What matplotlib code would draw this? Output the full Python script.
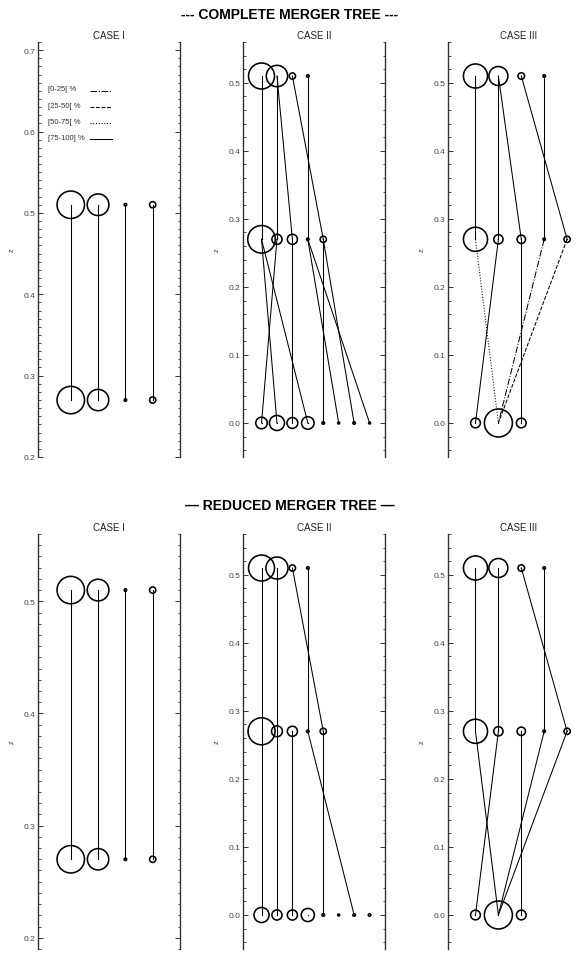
import matplotlib

matplotlib.use("Agg")

import numpy as np
import matplotlib.pyplot as plt
from matplotlib.ticker import MultipleLocator, FormatStrFormatter

plt.rcParams["font.family"] = ["Liberation Sans", "DejaVu Sans"]

# redshift of each tree level (top -> bottom)
Z_LEVELS = [0.51, 0.27, 0.0]

# mass-fraction classes used for the branch line styles
CLASS_LABELS = ["[0-25[ %", "[25-50[ %", "[50-75[ %", "[75-100] %"]
CLASS_STYLES = ["-.", "--", ":", "-"]
CASE_NAMES = ["CASE I", "CASE II", "CASE III"]

# relative halo masses per level (largest halo = 1)
CASE1_MASS = [[0.96, 0.60, 0.008, 0.05],
              [0.96, 0.58, 0.008, 0.05]]
CASE2_MASS = [[0.86, 0.58, 0.05, 0.008],
              [0.97, 0.13, 0.13, 0.008, 0.05],
              [0.17, 0.29, 0.15, 0.20, 0.008, 0.005, 0.008, 0.005]]
CASE2_RED_MASS = [[0.86, 0.62, 0.05, 0.008],
                  [0.93, 0.15, 0.13, 0.008, 0.05],
                  [0.29, 0.13, 0.13, 0.22, 0.008, 0.005, 0.008, 0.008]]
CASE3_MASS = [[0.74, 0.46, 0.055, 0.008],
              [0.74, 0.11, 0.09, 0.008, 0.05],
              [0.12, 1.00, 0.12]]

# links: (parent level, parent index, child index, mass-fraction class)
CASE1_LINKS = [(0, 0, 0, 3), (0, 1, 1, 3), (0, 2, 2, 3), (0, 3, 3, 3)]
CASE2_LINKS = [(0, 0, 0, 3), (0, 1, 1, 3), (0, 1, 2, 3), (0, 2, 4, 3), (0, 3, 3, 3),
               (1, 0, 1, 3), (1, 0, 3, 3), (1, 1, 0, 3), (1, 2, 2, 3),
               (1, 3, 5, 3), (1, 3, 7, 3), (1, 4, 4, 3), (1, 4, 6, 3)]
CASE2_RED_LINKS = [(0, 0, 0, 3), (0, 1, 1, 3), (0, 2, 4, 3), (0, 3, 3, 3),
                   (1, 0, 0, 3), (1, 1, 1, 3), (1, 2, 2, 3), (1, 3, 6, 3), (1, 4, 4, 3)]
CASE3_LINKS = [(0, 0, 0, 3), (0, 1, 1, 3), (0, 1, 2, 3), (0, 2, 4, 3), (0, 3, 3, 3),
               (1, 0, 1, 2), (1, 1, 0, 3), (1, 2, 2, 3), (1, 3, 1, 0), (1, 4, 1, 1)]
CASE3_RED_LINKS = [(0, 0, 0, 3), (0, 1, 1, 3), (0, 2, 4, 3), (0, 3, 3, 3),
                   (1, 0, 1, 3), (1, 1, 0, 3), (1, 2, 2, 3), (1, 3, 1, 3), (1, 4, 1, 3)]

R_MAX_PX = 14.0  # radius in pixels of a halo with mass 1


def draw_tree(ax, masses, links):
    for lev, par, chi, cls in links:
        ax.plot([par + 1, chi + 1], [Z_LEVELS[lev], Z_LEVELS[lev + 1]],
                color="black", lw=0.75, ls=CLASS_STYLES[cls], zorder=2)
    for lev, row in enumerate(masses):
        m = np.asarray(row)
        xs = np.arange(1, len(m) + 1)
        zs = np.full(len(m), Z_LEVELS[lev])
        diam_pt = 2 * R_MAX_PX * np.sqrt(m) * 0.72
        ax.scatter(xs, zs, s=diam_pt ** 2, facecolors="none", edgecolors="black",
                   linewidths=1.15, zorder=3)
        ax.scatter(xs, zs, s=0.8, color="black", lw=0, zorder=4)


def style_axis(ax, n, ylim, minor):
    ax.set_xlim(-0.2, n + 1)
    ax.set_ylim(*ylim)
    for s in ("top", "bottom"):
        ax.spines[s].set_visible(False)
    for s in ("left", "right"):
        ax.spines[s].set_color("#333333")
        ax.spines[s].set_linewidth(1.0)
    ax.tick_params(axis="x", bottom=False, labelbottom=False)
    ax.tick_params(axis="y", which="both", direction="in", left=True, right=True,
                   labelsize=6, labelcolor="#444444", color="#333333", pad=2)
    ax.tick_params(axis="y", which="major", length=3.5, width=0.7)
    ax.tick_params(axis="y", which="minor", length=1.8, width=0.6)
    ax.yaxis.set_major_locator(MultipleLocator(0.1))
    ax.yaxis.set_minor_locator(MultipleLocator(minor))
    ax.yaxis.set_major_formatter(FormatStrFormatter("%.1f"))
    ax.set_ylabel("z", fontsize=5.5, color="#444444")
    ax.yaxis.set_label_coords(-0.16, 0.5)


def draw_key(ax):
    # IDL-style key: label on the left, line sample on the right
    for k, (label, ls) in enumerate(zip(CLASS_LABELS, CLASS_STYLES)):
        y = 0.887 - k * 0.0393
        ax.text(0.07, y, label, transform=ax.transAxes, fontsize=5.5,
                color="#333333", ha="left", va="center")
        ax.plot([0.366, 0.521], [y - 0.004, y - 0.004], transform=ax.transAxes,
                color="black", lw=0.75, ls=ls)


W, H = 580, 954
fig = plt.figure(figsize=(W / 100, H / 100), dpi=100)

lefts = [38, 243, 448]
width = 142
rows = [(43, 458), (535, 950)]

panels = [
    [(CASE1_MASS, CASE1_LINKS, 4, (0.2, 0.71), 0.01),
     (CASE2_MASS, CASE2_LINKS, 8, (-0.05, 0.56), 0.02),
     (CASE3_MASS, CASE3_LINKS, 5, (-0.05, 0.56), 0.02)],
    [(CASE1_MASS, CASE1_LINKS, 4, (0.19, 0.56), 0.01),
     (CASE2_RED_MASS, CASE2_RED_LINKS, 8, (-0.05, 0.56), 0.02),
     (CASE3_MASS, CASE3_RED_LINKS, 5, (-0.05, 0.56), 0.02)],
]

axes = []
for (top, bot), row in zip(rows, panels):
    for left, name, (masses, links, n, ylim, minor) in zip(lefts, CASE_NAMES, row):
        ax = fig.add_axes([left / W, 1 - bot / H, width / W, (bot - top) / H])
        ax.patch.set_visible(False)
        draw_tree(ax, masses, links)
        style_axis(ax, n, ylim, minor)
        ax.set_title(name, fontsize=7, pad=3, color="#222222")
        axes.append(ax)

draw_key(axes[0])

fig.text(0.5, 1 - 15 / H, "--- COMPLETE MERGER TREE ---", ha="center", va="center",
         fontsize=10, fontweight="bold")
fig.text(0.5, 1 - 506 / H, "\u2014 REDUCED MERGER TREE \u2014", ha="center", va="center",
         fontsize=10, fontweight="bold")

fig.savefig("out.png", dpi=100)
plt.close(fig)
